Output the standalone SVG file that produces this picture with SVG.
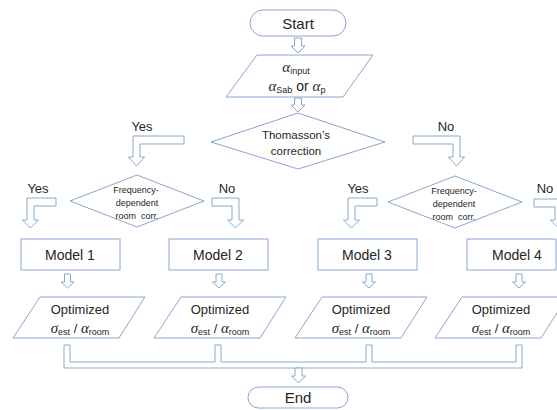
<svg xmlns="http://www.w3.org/2000/svg" width="557" height="410" viewBox="0 0 557 410">
<style>
  .shape { fill: #ffffff; stroke: #8aa8cf; stroke-width: 1; }
  .arrow { fill: #ffffff; stroke: #8aa8cf; stroke-width: 1; stroke-linejoin: miter; }
  text { font-family: "Liberation Sans", Arial, sans-serif; fill: #262626; text-anchor: middle; }
  .t15 { font-size: 15px; }
  .t14 { font-size: 14px; }
  .t13 { font-size: 13px; }
  .t12 { font-size: 11.5px; }
  .t9 { font-size: 9px; }
  .sym { font-family: "Liberation Serif", "Times New Roman", serif; font-style: italic; }
</style>
<rect width="557" height="410" fill="#ffffff"/>

<g id="connectors">
  <polygon class="arrow" points="294.5,38 301.5,38 301.5,46 305,46 298,53 291,46 294.5,46"/>
  <polygon class="arrow" points="294.5,98 301.5,98 301.5,105 305,105 298,112 291,105 294.5,105"/>
  <polygon class="arrow" points="184,136 133,136 133,157 128.5,157 136.5,166 144.5,157 140,157 140,144 184,144"/>
  <polygon class="arrow" points="413,136 460,136 460,157 464.5,157 456.5,166 448.5,157 453,157 453,144 413,144"/>
  <polygon class="arrow" points="56,198 27,198 27,220 22.5,220 30.5,228 38.5,220 34,220 34,206 56,206"/>
  <polygon class="arrow" points="212,198 239,198 239,220 243.5,220 235.5,228 227.5,220 232,220 232,206 212,206"/>
  <polygon class="arrow" points="377,198 348,198 348,220 343.5,220 351.5,228 359.5,220 355,220 355,206 377,206"/>
  <polygon class="arrow" points="534,199 562,199 562,220 566.5,220 558.5,228 550.5,220 555,220 555,207 534,207"/>
  <polygon class="arrow" points="64.5,274 70.5,274 70.5,282 74,282 67.5,288 61,282 64.5,282"/>
  <polygon class="arrow" points="216,274 222,274 222,282 225.5,282 219,288 212.5,282 216,282"/>
  <polygon class="arrow" points="366,274 372,274 372,282 375.5,282 369,288 362.5,282 366,282"/>
  <polygon class="arrow" points="516,274 522,274 522,282 525.5,282 519,288 512.5,282 516,282"/>
  <path class="arrow" d="M64,345 H70 V362 H215 V345 H221 V362 H366 V345 H372 V362 H516 V345 H522 V368 H64 Z"/>
  <polygon class="arrow" points="295,368 302,368 302,376 305.5,376 298.5,383 291.5,376 295,376"/>
</g>

<g id="start">
  <rect class="shape" x="250" y="10" width="96" height="26" rx="13" ry="13"/>
  <text class="t15" x="298" y="29">Start</text>
</g>

<g id="input">
  <polygon class="shape" points="257,55 373,55 343,97 226,97"/>
  <text class="t13" x="296" y="72"><tspan class="sym" font-size="15">α</tspan><tspan font-size="9" dy="2">input</tspan></text>
  <text class="t14" x="297" y="91"><tspan class="sym" font-size="15">α</tspan><tspan font-size="9" dy="2">Sab</tspan><tspan dy="-2"> or </tspan><tspan class="sym" font-size="15">α</tspan><tspan font-size="9" dy="2">p</tspan></text>
</g>

<g id="thomasson">
  <polygon class="shape" points="298,113 385,142 298,169 211,142"/>
  <text class="t12" x="296" y="139">Thomasson’s</text>
  <text class="t12" x="296" y="155">correction</text>
</g>

<g id="label-yes-top">
  <text class="t13" x="142" y="131">Yes</text>
</g>
<g id="label-no-top">
  <text class="t13" x="446" y="131">No</text>
</g>

<g id="freq-left">
  <polygon class="shape" points="137,175 204,201 137,227 70,201"/>
  <text class="t9" x="136" y="193">Frequency-</text>
  <text class="t9" x="137" y="206">dependent</text>
  <text class="t9" x="137" y="219">room&#160; corr.</text>
</g>

<g id="freq-right">
  <polygon class="shape" points="455,176 522,202 455,228 388,202"/>
  <text class="t9" x="454" y="194">Frequency-</text>
  <text class="t9" x="454" y="207">dependent</text>
  <text class="t9" x="454" y="220">room&#160; corr.</text>
</g>

<g id="labels-mid">
  <text class="t13" x="38" y="193">Yes</text>
  <text class="t13" x="227" y="193">No</text>
  <text class="t13" x="358" y="193">Yes</text>
  <text class="t13" x="545" y="193">No</text>
</g>

<g id="model1">
  <rect class="shape" x="21" y="239" width="99" height="31"/>
  <text class="t14" x="70" y="260">Model 1</text>
</g>
<g id="model2">
  <rect class="shape" x="169" y="239" width="99" height="31"/>
  <text class="t14" x="218" y="260">Model 2</text>
</g>
<g id="model3">
  <rect class="shape" x="318" y="239" width="99" height="31"/>
  <text class="t14" x="367" y="260">Model 3</text>
</g>
<g id="model4">
  <rect class="shape" x="467" y="239" width="89" height="31"/>
  <text class="t14" x="517" y="260">Model 4</text>
</g>

<g id="opt1">
  <polygon class="shape" points="40,297 145,297 119,338 13,338"/>
  <text class="t13" x="80" y="314">Optimized</text>
  <text class="t13" x="80" y="333"><tspan class="sym" font-size="15">σ</tspan><tspan font-size="9" dy="2">est</tspan><tspan dy="-2"> / </tspan><tspan class="sym" font-size="15">α</tspan><tspan font-size="9" dy="2">room</tspan></text>
</g>
<g id="opt2">
  <polygon class="shape" points="181,297 286,297 260,338 154,338"/>
  <text class="t13" x="220" y="314">Optimized</text>
  <text class="t13" x="220" y="333"><tspan class="sym" font-size="15">σ</tspan><tspan font-size="9" dy="2">est</tspan><tspan dy="-2"> / </tspan><tspan class="sym" font-size="15">α</tspan><tspan font-size="9" dy="2">room</tspan></text>
</g>
<g id="opt3">
  <polygon class="shape" points="322,297 427,297 401,338 295,338"/>
  <text class="t13" x="361" y="314">Optimized</text>
  <text class="t13" x="361" y="333"><tspan class="sym" font-size="15">σ</tspan><tspan font-size="9" dy="2">est</tspan><tspan dy="-2"> / </tspan><tspan class="sym" font-size="15">α</tspan><tspan font-size="9" dy="2">room</tspan></text>
</g>
<g id="opt4">
  <polygon class="shape" points="462,297 567,297 541,338 435,338"/>
  <text class="t13" x="501" y="314">Optimized</text>
  <text class="t13" x="501" y="333"><tspan class="sym" font-size="15">σ</tspan><tspan font-size="9" dy="2">est</tspan><tspan dy="-2"> / </tspan><tspan class="sym" font-size="15">α</tspan><tspan font-size="9" dy="2">room</tspan></text>
</g>

<g id="end">
  <rect class="shape" x="248" y="387" width="100" height="21" rx="10.5" ry="10.5"/>
  <text class="t15" x="298" y="403">End</text>
</g>
</svg>
